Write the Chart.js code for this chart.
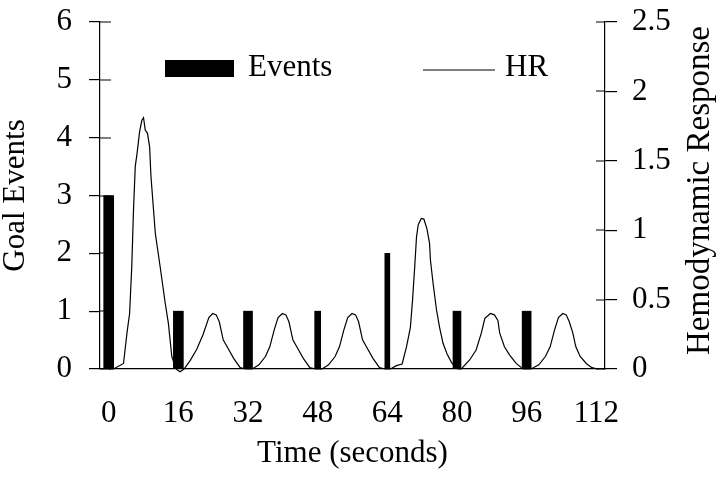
<!DOCTYPE html>
<html>
<head>
<meta charset="utf-8">
<title>Goal events and hemodynamic response</title>
<script src="https://cdn.jsdelivr.net/npm/chart.js@4"></script>
<style>
  html, body { margin: 0; padding: 0; background: #fff; }
</style>
</head>
<body>
<canvas id="chart" width="720" height="491"></canvas>
<script>
// Goal events (bars, left axis) and hemodynamic response (line, right axis)

const eventTimes = [0, 16, 32, 48, 64, 80, 96];
const eventCounts = [3, 1, 1, 1, 2, 1, 1];
const eventBarWidths = [10, 10, 9, 6, 5, 8, 9]; // px, bars are not all the same width

// HR trace (seconds, response)
const hrTimes = [
  0, 1.1, 3.4, 4.2, 4.8, 5.3, 5.7, 6.1, 6.5, 7.1, 7.6, 8.0, 8.4, 8.9, 9.4, 9.7,
  10.7, 11.8, 13.0, 13.7, 14.5, 15.5, 16.4, 17.3,
  18.7, 20.2, 21.7, 23.0, 23.9, 24.7, 25.4, 26.3, 27.2, 28.7, 30.2, 31.5,
  33.0, 34.5, 36.0, 37.0, 38.0, 38.9, 39.9, 40.7, 41.4, 42.3, 43.2, 44.7, 46.2, 47.5,
  49.0, 50.5, 52.0, 53.0, 54.0, 54.9, 55.9, 56.7, 57.4, 58.3, 59.2, 60.7, 62.2, 63.5,
  64.7, 66.1, 67.4, 68.4, 69.3, 69.8, 70.3, 70.7, 71.1, 71.8, 72.4, 73.1, 73.7, 73.9,
  74.5, 75.3, 76.0, 76.8, 77.7, 78.7, 79.5, 80.2,
  81.0, 82.9, 84.4, 85.6, 86.4, 87.7, 88.6, 89.4, 89.8, 90.9, 92.1, 93.6, 95.2,
  97.0, 98.8, 100.3, 101.4, 102.4, 103.3, 104.3, 105.1, 105.8, 106.6, 107.3, 108.3,
  109.7, 111.0, 112.3
];
const hrValues = [
  0, 0, 0.04, 0.26, 0.40, 0.74, 1.15, 1.46, 1.55, 1.71, 1.79, 1.81, 1.72, 1.70, 1.60, 1.39,
  0.98, 0.74, 0.47, 0.33, 0.09, 0, -0.02, 0,
  0.06, 0.14, 0.25, 0.37, 0.40, 0.39, 0.34, 0.21, 0.16, 0.077, 0.01, 0,
  0, 0.03, 0.09, 0.16, 0.28, 0.37, 0.40, 0.39, 0.34, 0.21, 0.16, 0.077, 0.01, 0,
  0, 0.03, 0.09, 0.16, 0.28, 0.37, 0.40, 0.39, 0.34, 0.21, 0.16, 0.077, 0.01, 0,
  0, 0.024, 0.036, 0.16, 0.30, 0.50, 0.74, 0.95, 1.04, 1.085, 1.08, 1.01, 0.905, 0.785,
  0.62, 0.425, 0.30, 0.185, 0.11, 0.05, 0.017, 0,
  0, 0.065, 0.137, 0.26, 0.365, 0.40, 0.39, 0.35, 0.26, 0.16, 0.10, 0.04, 0,
  0, 0.03, 0.09, 0.16, 0.28, 0.37, 0.40, 0.39, 0.34, 0.26, 0.16, 0.09,
  0.04, 0.01, 0
];

const xTicks = [0, 16, 32, 48, 64, 80, 96, 112];
const leftTicks = [0, 1, 2, 3, 4, 5, 6];
const rightTicks = [0, 0.5, 1, 1.5, 2, 2.5];

const FONT = "'Liberation Serif', 'Times New Roman', serif";
const TXT = 31;
Chart.defaults.font.family = FONT;
Chart.defaults.color = "#000";

const datasets = [
  {
    type: "line",
    label: "HR",
    data: hrTimes.map((t, i) => ({ x: t, y: hrValues[i] })),
    yAxisID: "yR",
    borderColor: "#000",
    borderWidth: 1.2,
    pointRadius: 0,
    tension: 0,
    clip: 6,
    order: 0,
  },
];
eventTimes.forEach((t, i) => {
  datasets.push({
    type: "bar",
    label: "Events",
    data: [{ x: t, y: eventCounts[i] }],
    yAxisID: "yL",
    backgroundColor: "#000",
    borderWidth: 0,
    grouped: false,
    barThickness: eventBarWidths[i],
    order: 1,
  });
});

function fixTicks(list) {
  return (scale) => {
    scale.ticks = list.map((v) => ({ value: v }));
  };
}

// fixed axis box sizes so the plot area sits where the original one does
function fixWidth(w) {
  return (s) => {
    s.width = w;
    s.paddingTop = 0;
    s.paddingBottom = 0;
  };
}

// inner half of the cross ticks, right axis title, legend inside the plot
const extras = {
  id: "extras",
  afterDraw(chart) {
    const ctx = chart.ctx;
    const { yL, yR } = chart.scales;
    const area = chart.chartArea;
    ctx.save();
    ctx.strokeStyle = "#000";
    ctx.lineWidth = 1.2;
    ctx.beginPath();
    yL.ticks.forEach((t) => {
      const y = Math.round(yL.getPixelForValue(t.value));
      ctx.moveTo(yL.right, y);
      ctx.lineTo(yL.right + 11, y);
    });
    yR.ticks.forEach((t) => {
      const y = Math.round(yR.getPixelForValue(t.value));
      ctx.moveTo(yR.left, y);
      ctx.lineTo(yR.left - 9, y);
    });
    ctx.stroke();

    ctx.fillStyle = "#000";

    // right title reads upward like the left one
    ctx.save();
    ctx.font = "33px " + FONT;
    ctx.translate(yR.right - 20, (yR.top + yR.bottom) / 2 - 5);
    ctx.rotate(-Math.PI / 2);
    ctx.textAlign = "center";
    ctx.textBaseline = "middle";
    ctx.fillText("Hemodynamic Response", 0, 0);
    ctx.restore();

    // legend
    ctx.font = TXT + "px " + FONT;
    const lx = area.left + 65;
    const ly = area.top + 38;
    ctx.fillRect(lx, ly, 69, 17);
    ctx.textAlign = "left";
    ctx.textBaseline = "alphabetic";
    ctx.fillText("Events", lx + 83, ly + 16);
    ctx.beginPath();
    ctx.moveTo(lx + 258, ly + 10);
    ctx.lineTo(lx + 330, ly + 10);
    ctx.stroke();
    ctx.fillText("HR", lx + 340, ly + 16);
    ctx.restore();
  },
};

new Chart(document.getElementById("chart"), {
  type: "line",
  data: { datasets },
  options: {
    responsive: false,
    animation: false,
    layout: { padding: { top: 22, left: 0, right: 0, bottom: 0 } },
    plugins: {
      legend: { display: false },
      tooltip: { enabled: false },
    },
    scales: {
      x: {
        type: "linear",
        min: -2,
        max: 114,
        offset: false,
        afterBuildTicks: fixTicks(xTicks),
        grid: { display: false, drawTicks: false, offset: false },
        border: { display: true, color: "#000", width: 1.2 },
        ticks: {
          font: { size: TXT },
          color: "#000",
          padding: 26,
          maxRotation: 0,
          autoSkip: false,
        },
        title: {
          display: true,
          text: "Time (seconds)",
          font: { size: TXT, lineHeight: 1 },
          color: "#000",
          padding: { top: 0, bottom: 22 },
        },
        afterFit: (s) => {
          s.height = 122;
        },
      },
      yL: {
        position: "left",
        min: 0,
        max: 6,
        afterBuildTicks: fixTicks(leftTicks),
        grid: {
          drawOnChartArea: false,
          tickLength: 11,
          color: "#000",
          lineWidth: 1.2,
        },
        border: { color: "#000", width: 1.2 },
        ticks: { font: { size: TXT }, color: "#000", padding: 17 },
        title: {
          display: true,
          text: "Goal Events",
          font: { size: TXT, lineHeight: 1 },
          color: "#000",
          padding: 0,
        },
        afterFit: fixWidth(100),
      },
      yR: {
        position: "right",
        min: 0,
        max: 2.5,
        afterBuildTicks: fixTicks(rightTicks),
        grid: {
          drawOnChartArea: false,
          tickLength: 12,
          color: "#000",
          lineWidth: 1.2,
        },
        border: { color: "#000", width: 1.2 },
        ticks: {
          font: { size: TXT },
          color: "#000",
          padding: 15,
          callback: (v) => String(v),
        },
        afterFit: fixWidth(115),
      },
    },
  },
  plugins: [extras],
});
</script>
</body>
</html>
